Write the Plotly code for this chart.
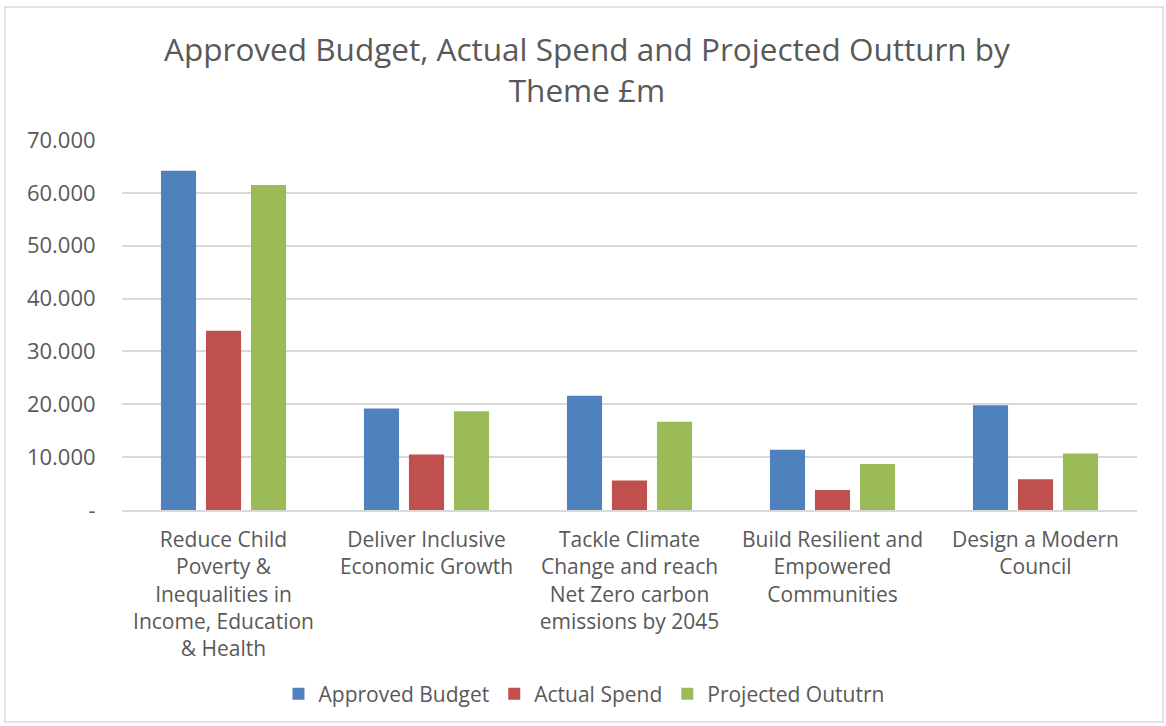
import plotly.graph_objects as go

categories = [
    "Reduce Child<br>Poverty &<br>Inequalities in<br>Income, Education<br>& Health",
    "Deliver Inclusive<br>Economic Growth",
    "Tackle Climate<br>Change and reach<br>Net Zero carbon<br>emissions by 2045",
    "Build Resilient and<br>Empowered<br>Communities",
    "Design a Modern<br>Council",
]
approved_budget = [64.2, 19.2, 21.6, 11.4, 19.8]
actual_spend = [33.9, 10.5, 5.6, 3.8, 5.8]
projected_outturn = [61.5, 18.7, 16.7, 8.7, 10.7]

tick_vals = [0, 10, 20, 30, 40, 50, 60, 70]
tick_text = ["-", "10.000", "20.000", "30.000", "40.000", "50.000", "60.000", "70.000"]

series = [
    ("Approved Budget", approved_budget, "#4F81BD"),
    ("Actual Spend", actual_spend, "#C0504D"),
    ("Projected Oututrn", projected_outturn, "#9BBB59"),
]

text_color = "#595959"
font_family = "Open Sans"

fig = go.Figure()
for name, vals, color in series:
    fig.add_trace(go.Bar(x=categories, y=vals, name=name,
                         marker=dict(color=color, line=dict(width=0))))

W, H = 1166, 726
L, R, T, B = 122, 29, 140, 216
pw = W - L - R
ph = H - T - B

def px_x(p):
    return (p - L) / pw

def px_y(p):
    return (H - B - p) / ph

fig.update_layout(
    width=W, height=H,
    margin=dict(l=L, r=R, t=T, b=B, autoexpand=False),
    paper_bgcolor="white", plot_bgcolor="white",
    font=dict(family=font_family, color=text_color, size=21),
    barmode="group", bargap=0.335, bargroupgap=0.22,
    title=dict(text="Approved Budget, Actual Spend and Projected Outturn by<br>Theme £m",
               x=587 / W, xanchor="center", y=1 - 61 / H, yanchor="middle",
               font=dict(size=31.5, color=text_color, family=font_family)),
    showlegend=True,
    legend=dict(orientation="h", x=px_x(584), xanchor="center",
                y=px_y(694), yanchor="middle",
                font=dict(size=21, color=text_color),
                itemwidth=30, tracegroupgap=0, traceorder="normal"),
    xaxis=dict(showgrid=False, showline=True, linecolor="#d9d9d9", linewidth=1.5,
               ticks="outside", ticklen=10, tickcolor="rgba(0,0,0,0)",
               tickangle=0, tickfont=dict(size=21, color=text_color)),
    yaxis=dict(range=[0, 70], tickvals=tick_vals, ticktext=tick_text,
               showgrid=True, gridcolor="#d9d9d9", gridwidth=1.5,
               zeroline=False, showline=False,
               ticks="outside", ticklen=21, tickcolor="rgba(0,0,0,0)",
               tickfont=dict(size=22, color=text_color)),
    shapes=[dict(type="rect", xref="paper", yref="paper",
                 x0=px_x(5), x1=px_x(1163), y0=px_y(722), y1=px_y(7),
                 line=dict(color="#d9d9d9", width=1.5), fillcolor="rgba(0,0,0,0)",
                 layer="below")],
)

fig.write_html("out.html")
